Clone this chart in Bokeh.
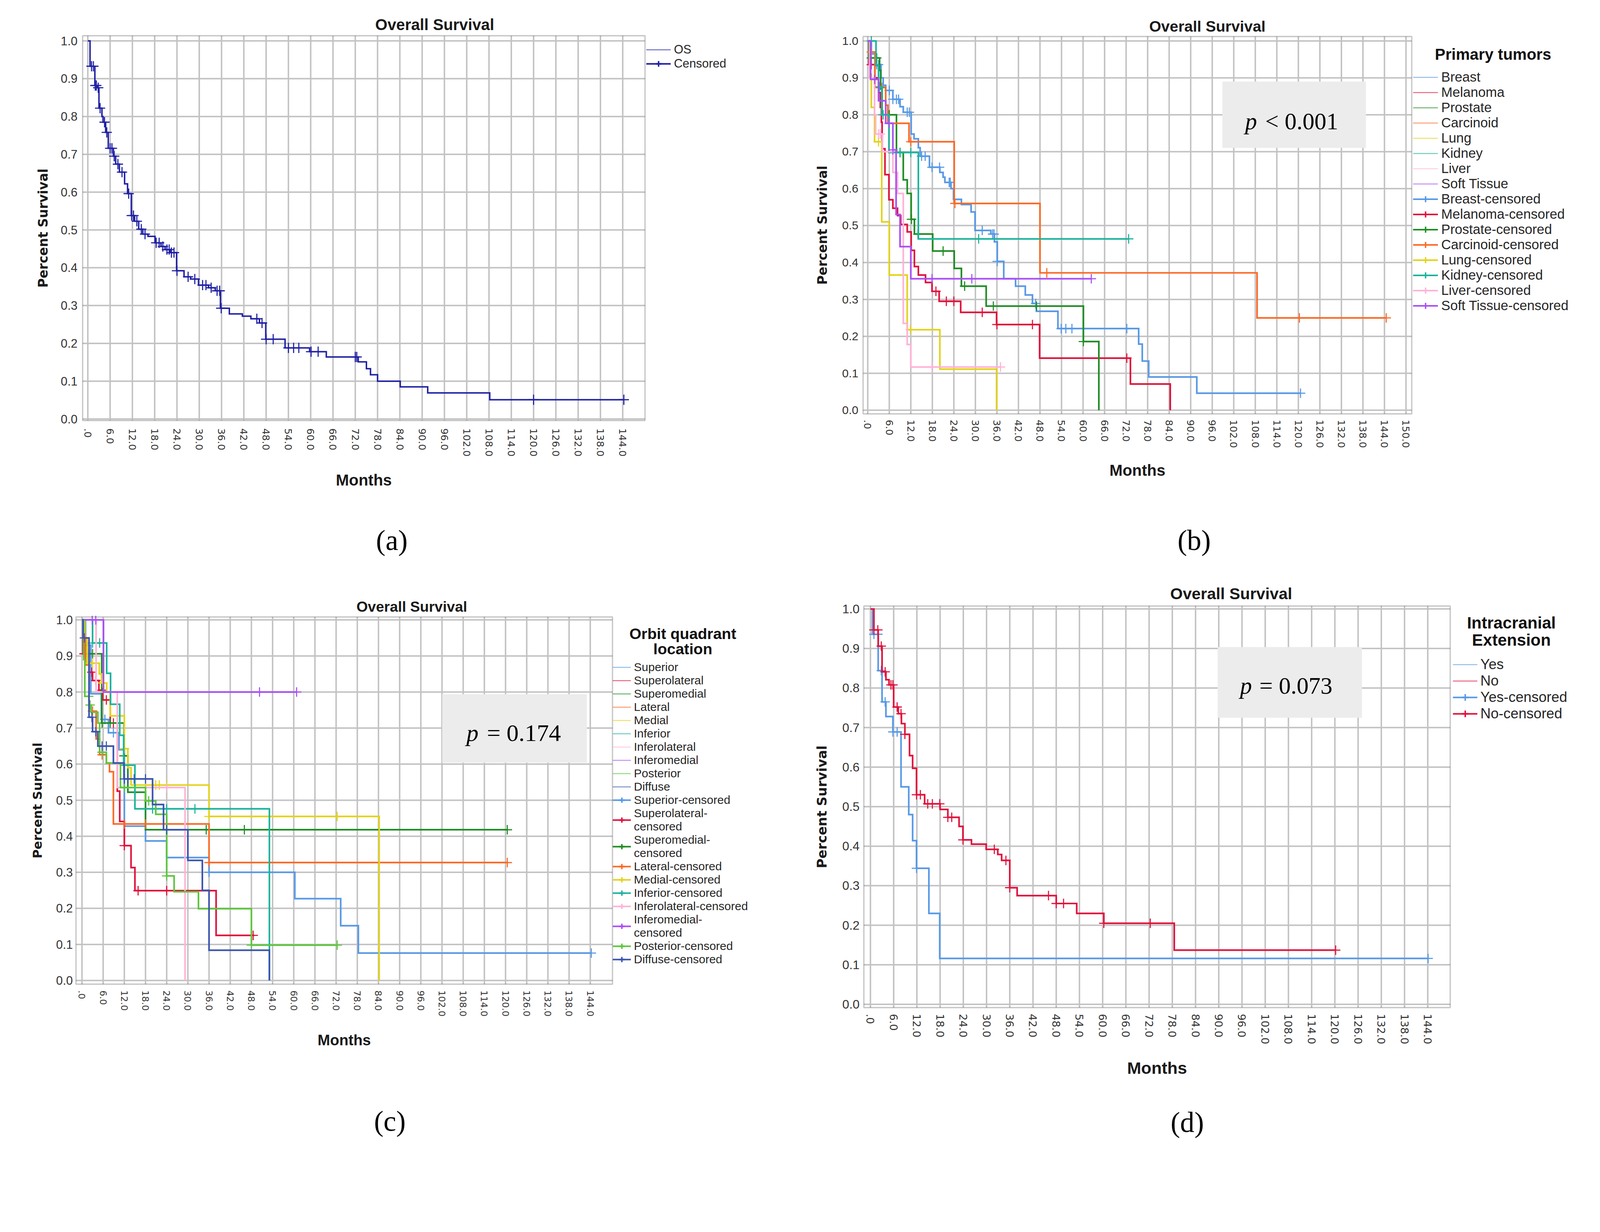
import math
from bokeh.plotting import figure
from bokeh.models import (FixedTicker, Legend, LegendItem, Label, BoxAnnotation,
                          Range1d, PrintfTickFormatter, LinearAxis)
from bokeh.layouts import column, row
from bokeh.embed import file_html
from bokeh.resources import INLINE

SANS = "Liberation Sans"
WIDE = "DejaVu Sans"
SERIF = "Liberation Serif"
NAN = float("nan")

# ---------------- axes / texts ----------------
Y_TICKS = [0.0, 0.1, 0.2, 0.3, 0.4, 0.5, 0.6, 0.7, 0.8, 0.9, 1.0]
X_TICKS_144 = list(range(0, 145, 6))
X_TICKS_150 = list(range(0, 151, 6))
X_ZERO_LABEL = ".0"
TITLE = "Overall Survival"
Y_LABEL = "Percent Survival"
X_LABEL = "Months"

# ---------------- panel (a) ----------------
OS_T = [0, 0.6, 1.9, 2.6, 3.0, 3.8, 4.1, 4.8, 5.5, 6.9, 7.5, 8.5, 9.9, 10.7, 11.7, 12.6, 13.7, 14.8,
        16.2, 18.1, 19.7, 20.8, 22.2, 23.9, 25.9, 27.7, 29.8, 32.5, 34.3, 35.7, 38.1, 41.6, 43.9, 46.2,
        47.9, 53.1, 59.7, 64.2, 72.8, 75.0, 76.1, 78.0, 84.1, 91.5, 108.2]
OS_S = [1.0, 0.933, 0.882, 0.876, 0.822, 0.80, 0.785, 0.758, 0.716, 0.695, 0.674, 0.653, 0.622, 0.596,
        0.538, 0.523, 0.502, 0.489, 0.483, 0.466, 0.456, 0.448, 0.44, 0.392, 0.376, 0.37, 0.354, 0.347,
        0.339, 0.293, 0.278, 0.272, 0.265, 0.254, 0.211, 0.188, 0.178, 0.164, 0.151, 0.133, 0.117, 0.10,
        0.085, 0.069, 0.051]
OS_END = 144.3
OS_C = [1.0, 1.5, 2.0, 2.3, 2.8, 3.3, 4.5, 5.1, 6.0, 6.5, 7.1, 8.1, 9.2, 11.0, 11.8, 12.3, 13.2, 14.4,
        15.4, 18.4, 19.2, 20.2, 21.3, 21.9, 22.5, 23.2, 24.0, 27.0, 28.8, 30.9, 31.8, 33.2, 34.8, 35.5,
        35.9, 45.5, 46.9, 48.0, 49.9, 54.0, 55.4, 56.8, 60.1, 62.0, 72.0, 72.4, 120.0, 144.3]

# ---------------- panel (b) ----------------
BREAST_T = [0, 1.0, 2.2, 3.7, 4.3, 5.0, 7.0, 9.0, 9.9, 12.1, 12.9, 14.1, 14.6, 17.2, 20.1, 21.0, 21.5,
            23.2, 23.9, 26.1, 28.8, 29.9, 34.3, 35.3, 36.1, 37.9, 41.2, 43.9, 45.9, 47.0, 53.0, 75.5,
            76.5, 78.3, 91.7]
BREAST_S = [1.0, 0.965, 0.936, 0.90, 0.88, 0.866, 0.842, 0.822, 0.807, 0.748, 0.735, 0.711, 0.688,
            0.658, 0.644, 0.631, 0.617, 0.60, 0.571, 0.557, 0.537, 0.487, 0.477, 0.456, 0.403, 0.356,
            0.336, 0.312, 0.289, 0.268, 0.221, 0.179, 0.133, 0.09, 0.046]
BREAST_END = 120.6
BREAST_C = [2.5, 3.0, 6.0, 7.0, 8.0, 8.6, 11.0, 11.6, 15.0, 16.0, 17.9, 20.0, 22.7, 23.0, 31.9, 34.8,
            35.2, 36.1, 46.8, 53.9, 55.2, 56.9, 72.2, 120.6]

MELANOMA_T = [0, 0.3, 2.0, 3.0, 3.5, 3.8, 4.0, 4.8, 5.9, 7.0, 8.3, 9.2, 11.0, 12.1, 13.0, 14.1, 16.1,
              17.9, 19.9, 25.9, 35.9, 47.9, 73.2, 84.3]
MELANOMA_S = [1.0, 0.936, 0.90, 0.86, 0.82, 0.78, 0.708, 0.638, 0.57, 0.547, 0.527, 0.503, 0.483,
              0.433, 0.389, 0.366, 0.346, 0.322, 0.295, 0.265, 0.232, 0.141, 0.071, 0.0]
MELANOMA_END = None
MELANOMA_C = [1.0, 19.0, 21.9, 24.0, 31.9, 36.0, 45.9, 72.2]

PROSTATE_T = [0, 0.3, 3.3, 3.6, 4.0, 8.0, 9.9, 11.0, 12.1, 13.0, 18.1, 24.1, 26.1, 33.0, 60.1, 64.4]
PROSTATE_S = [1.0, 0.954, 0.92, 0.87, 0.80, 0.698, 0.624, 0.587, 0.517, 0.477, 0.431, 0.384, 0.336,
              0.282, 0.186, 0.0]
PROSTATE_END = None
PROSTATE_C = [1.0, 2.5, 6.0, 9.0, 12.2, 14.0, 21.0, 27.0, 35.0, 47.0, 60.1]

CARCINOID_T = [0, 0.5, 2.0, 5.0, 5.6, 11.5, 24.1, 48.0, 108.5]
CARCINOID_S = [1.0, 0.97, 0.874, 0.826, 0.777, 0.727, 0.56, 0.372, 0.25]
CARCINOID_END = 144.5
CARCINOID_C = [1.0, 3.0, 3.9, 12.0, 24.3, 49.9, 120.3, 144.5]

LUNG_T = [0, 0.8, 1.0, 1.9, 3.9, 6.0, 11.0, 20.1, 35.9]
LUNG_S = [1.0, 0.91, 0.82, 0.727, 0.51, 0.366, 0.218, 0.111, 0.0]
LUNG_END = None
LUNG_C = [3.0, 11.9]

KIDNEY_T = [0, 2.3, 3.0, 3.9, 5.9, 14.1]
KIDNEY_S = [1.0, 0.933, 0.876, 0.80, 0.698, 0.464]
KIDNEY_END = 72.7
KIDNEY_C = [1.0, 3.3, 4.3, 9.0, 12.0, 30.9, 72.7]

LIVER_T = [0, 0.5, 1.9, 2.2, 4.1, 7.0, 8.3, 9.9, 11.0, 12.0]
LIVER_S = [1.0, 0.90, 0.80, 0.748, 0.70, 0.644, 0.587, 0.235, 0.178, 0.117]
LIVER_END = 37.0
LIVER_C = [3.0, 3.5, 17.9, 37.0]

SOFT_T = [0, 0.8, 3.0, 5.0, 7.0, 7.9, 9.0, 12.0]
SOFT_S = [1.0, 0.896, 0.838, 0.777, 0.705, 0.53, 0.443, 0.356]
SOFT_END = 62.3
SOFT_C = [1.9, 6.0, 7.0, 17.9, 29.0, 62.3]

B_NAMES = ["Breast", "Melanoma", "Prostate", "Carcinoid", "Lung", "Kidney", "Liver", "Soft Tissue"]
B_CENSORED = ["Breast-censored", "Melanoma-censored", "Prostate-censored", "Carcinoid-censored",
              "Lung-censored", "Kidney-censored", "Liver-censored", "Soft Tissue-censored"]
B_LEGEND_TITLE = ["Primary tumors"]

# ---------------- panel (c) ----------------
SUPERIOR_T = [0, 1.0, 2.5, 5.5, 7.5, 10.5, 12.0, 18.0, 24.0, 36.0, 60.3, 73.3, 78.3]
SUPERIOR_S = [1.0, 0.93, 0.795, 0.724, 0.687, 0.64, 0.428, 0.387, 0.341, 0.30, 0.227, 0.152, 0.076]
SUPERIOR_END = 144.3
SUPERIOR_C = [6.5, 8.9, 36.0, 144.3]

SUPEROLAT_T = [0, 0.3, 2.0, 3.0, 4.8, 5.9, 8.0, 10.0, 10.7, 12.0, 13.9, 15.0, 38.0]
SUPEROLAT_S = [1.0, 0.906, 0.855, 0.832, 0.805, 0.778, 0.714, 0.525, 0.441, 0.374, 0.313, 0.249, 0.125]
SUPEROLAT_END = 48.8
SUPEROLAT_C = [0.6, 2.8, 3.9, 5.7, 6.9, 8.9, 12.0, 15.9, 24.0, 48.5]

SUPEROMED_T = [0, 0.8, 5.6, 11.9, 13.0, 18.0]
SUPEROMED_S = [1.0, 0.906, 0.714, 0.623, 0.522, 0.418]
SUPEROMED_END = 120.5
SUPEROMED_C = [1.9, 3.0, 5.7, 8.0, 11.9, 35.2, 46.0, 120.5]

LATERAL_T = [0, 0.5, 1.0, 2.0, 4.0, 5.0, 6.9, 7.8, 8.9, 36.0]
LATERAL_S = [1.0, 0.96, 0.875, 0.747, 0.67, 0.626, 0.603, 0.579, 0.434, 0.327]
LATERAL_END = 120.5
LATERAL_C = [3.0, 5.7, 12.0, 18.0, 36.0, 120.5]

MEDIAL_T = [0, 0.8, 1.5, 4.9, 5.6, 7.0, 8.0, 12.0, 13.0, 13.9, 36.0, 84.2]
MEDIAL_S = [1.0, 0.95, 0.88, 0.85, 0.825, 0.80, 0.734, 0.643, 0.59, 0.542, 0.455, 0.0]
MEDIAL_END = None
MEDIAL_C = [1.9, 3.0, 5.9, 12.0, 20.9, 21.9, 24.0, 36.0, 72.3]

INFERIOR_T = [0, 3.0, 7.0, 8.1, 10.7, 11.8, 15.0, 53.1]
INFERIOR_S = [1.0, 0.936, 0.852, 0.766, 0.68, 0.597, 0.476, 0.0]
INFERIOR_END = None
INFERIOR_C = [3.0, 5.0, 12.0, 20.0, 24.0, 32.0]

INFEROLAT_T = [0, 4.0, 10.0, 29.2]
INFEROLAT_S = [1.0, 0.80, 0.535, 0.0]
INFEROLAT_END = None
INFEROLAT_C = [24.0]

INFEROMED_T = [0, 6.1]
INFEROMED_S = [1.0, 0.80]
INFEROMED_END = 60.8
INFEROMED_C = [2.9, 3.9, 50.3, 60.8]

POSTERIOR_T = [0, 0.5, 0.8, 2.0, 2.6, 4.5, 5.0, 6.9, 10.9, 18.0, 20.9, 24.0, 26.1, 33.0, 48.0]
POSTERIOR_S = [1.0, 0.89, 0.788, 0.764, 0.744, 0.714, 0.633, 0.603, 0.535, 0.498, 0.461, 0.29, 0.246,
               0.199, 0.098]
POSTERIOR_END = 72.3
POSTERIOR_C = [1.9, 2.3, 5.7, 12.0, 18.9, 24.0, 48.0, 72.3]

DIFFUSE_T = [0, 0.3, 2.0, 3.0, 4.5, 8.9, 11.9, 20.0, 23.1, 30.0, 34.1, 36.0, 53.1]
DIFFUSE_S = [1.0, 0.95, 0.73, 0.69, 0.65, 0.603, 0.559, 0.488, 0.418, 0.333, 0.25, 0.084, 0.0]
DIFFUSE_END = None
DIFFUSE_C = [0.7, 2.8, 3.9, 5.7, 6.9, 12.0, 13.0, 14.8, 18.0, 24.0]

C_NAMES = ["Superior", "Superolateral", "Superomedial", "Lateral", "Medial", "Inferior",
           "Inferolateral", "Inferomedial", "Posterior", "Diffuse"]
C_CENSORED = ["Superior-censored", "Superolateral-\ncensored", "Superomedial-\ncensored",
              "Lateral-censored", "Medial-censored", "Inferior-censored", "Inferolateral-censored",
              "Inferomedial-\ncensored", "Posterior-censored", "Diffuse-censored"]
C_LEGEND_TITLE = ["Orbit quadrant", "location"]

# ---------------- panel (d) ----------------
YES_T = [0, 0.5, 2.0, 3.0, 4.0, 5.8, 7.9, 9.9, 10.9, 11.9, 15.1, 17.9]
YES_S = [1.0, 0.936, 0.844, 0.765, 0.728, 0.689, 0.55, 0.48, 0.414, 0.344, 0.23, 0.116]
YES_END = 144.1
YES_C = [0.9, 1.9, 2.8, 3.8, 5.8, 6.9, 11.9, 144.1]

NO_T = [0, 0.9, 2.0, 3.0, 4.0, 4.8, 6.0, 7.2, 8.0, 8.9, 10.1, 10.9, 11.9, 14.0, 18.0, 20.0, 22.9,
        23.9, 26.1, 29.9, 32.9, 33.9, 36.0, 37.9, 48.0, 53.3, 60.3, 78.5]
NO_S = [1.0, 0.947, 0.906, 0.841, 0.821, 0.808, 0.752, 0.735, 0.71, 0.683, 0.629, 0.597, 0.53, 0.507,
        0.493, 0.473, 0.45, 0.416, 0.405, 0.392, 0.379, 0.364, 0.295, 0.275, 0.255, 0.23, 0.205, 0.137]
NO_END = 120.2
NO_C = [0.9, 1.9, 2.8, 3.8, 5.3, 5.8, 6.9, 7.9, 8.9, 11.9, 12.9, 14.8, 16.0, 17.9, 20.0, 21.0, 23.9,
        32.0, 35.0, 36.0, 46.0, 48.0, 49.9, 60.3, 72.3, 120.2]

D_NAMES = ["Yes", "No"]
D_CENSORED = ["Yes-censored", "No-censored"]
D_LEGEND_TITLE = ["Intracranial", "Extension"]

# ---------------- colours ----------------
NAVY = "#1f20a3"
LBLUE = "#5899e6"
RED = "#e0123c"
DGREEN = "#1f8c24"
ORANGE = "#fb6a26"
YELLOW = "#e3d31b"
TEAL = "#1cb39c"
PINK = "#ffb3d6"
PURPLE = "#a94ff6"
LGREEN = "#5dc53f"
DBLUE = "#3b55ae"
GRID = "#c2c2c2"
FRAME = "#474747"

# layout is designed in reference pixels and scaled into the page (CSS px)
K = 4096 / 4368
W, H = 2040, 1470
ORIGINS = [(8, 8), (8 + W, 8), (8, 8 + H), (8 + W, 8 + H)]
PAD = 3


def step_xy(ts, ss, end):
    xs, ys = list(ts), list(ss)
    if end is not None:
        xs.append(end)
        ys.append(ss[-1])
    return xs, ys


def surv_at(ts, ss, t):
    v = ss[0]
    for ti, si in zip(ts, ss):
        if ti <= t + 1e-9:
            v = si
        else:
            break
    return v


def px(v):
    return f"{v * K:.1f}px"


def build(sp, origin):
    ox, oy = origin
    vL, vR, vT, vB = [v * K for v in sp["vis"]]
    xv0, xv1 = sp["xv"]
    yv0, yv1 = sp["yv"]
    Lb, Rb, Tb, Bb = vL - PAD, ox + W - 4, vT - PAD, vB + PAD
    ppx = (vR - vL) / (xv1 - xv0)
    ppy = (vB - vT) / (yv1 - yv0)
    xr0, xr1 = xv0 - (vL - Lb) / ppx, xv0 + (Rb - vL) / ppx
    yr0, yr1 = yv0 - (Bb - vB) / ppy, yv1 + (vT - Tb) / ppy

    def dx(ref_px):
        return xv0 + (ref_px * K - vL) / ppx

    def dy(ref_py):
        return yv1 - (ref_py * K - vT) / ppy

    p = figure(width=W, height=H, output_backend="svg", toolbar_location=None,
               x_range=Range1d(xr0, xr1), y_range=Range1d(yr0, yr1),
               min_border_left=int(round(Lb - ox)), min_border_right=int(round(ox + W - Rb)),
               min_border_top=int(round(Tb - oy)), min_border_bottom=int(round(oy + H - Bb)))
    p.background_fill_color = "white"
    p.border_fill_color = "white"
    p.outline_line_color = None
    p.xgrid.visible = False
    p.ygrid.visible = False

    # grid lines, only inside the plot box
    xt = sp["xticks"]
    p.segment(x0=xt, y0=[yv0] * len(xt), x1=xt, y1=[yv1] * len(xt),
              line_color=GRID, line_width=4 * K)
    p.segment(x0=[xv0] * len(Y_TICKS), y0=Y_TICKS, x1=[xv1] * len(Y_TICKS), y1=Y_TICKS,
              line_color=GRID, line_width=4 * K)

    # axes
    xa, ya = p.xaxis[0], p.yaxis[0]
    xa.ticker = FixedTicker(ticks=xt)
    xa.formatter = PrintfTickFormatter(format="%.1f")
    xa.major_label_overrides = {0: X_ZERO_LABEL}
    xa.major_label_orientation = -math.pi / 2
    xa.major_label_text_font = WIDE
    xa.major_label_text_font_size = px(sp["xtick_size"])
    xa.major_label_text_color = "#333333"
    xa.major_label_standoff = int(round(sp["xtick_standoff"] * K - PAD))

    ya.ticker = FixedTicker(ticks=Y_TICKS)
    ya.formatter = PrintfTickFormatter(format="%.1f")
    ya.major_label_text_font = SANS
    ya.major_label_text_font_size = px(sp["ytick_size"])
    ya.major_label_text_color = "#333333"
    ya.major_label_standoff = int(round(sp["ytick_standoff"] * K - PAD))
    ya.axis_label = Y_LABEL
    ya.axis_label_text_font = WIDE
    ya.axis_label_text_font_style = "bold"
    ya.axis_label_text_font_size = px(sp["ylabel_size"])
    ya.axis_label_text_color = "#1a1a1a"
    ya.axis_label_standoff = int(round(sp["ylabel_standoff"] * K))

    def text_axis(txt, xpos, standoff, font, size, style, color, side):
        ax = LinearAxis(ticker=FixedTicker(ticks=[xpos]), formatter=PrintfTickFormatter(format=txt),
                        major_label_standoff=int(round(standoff * K)), major_label_text_font=font,
                        major_label_text_font_size=px(size), major_label_text_font_style=style,
                        major_label_text_color=color)
        p.add_layout(ax, side)
        return ax

    ax_t = text_axis(TITLE, dx(sp["title_c"]), sp["title_standoff"], SANS, sp["title_size"],
                     "bold", "#1a1a1a", "above")
    ax_m = text_axis(X_LABEL, (xv0 + xv1) / 2, sp["xlabel_standoff"], SANS, sp["xlabel_size"],
                     "bold", "#1a1a1a", "below")
    cap, cx, cs_ = sp["caption"]
    ax_c = text_axis(cap, dx(cx), cs_, SERIF, 78, "normal", "#000000", "below")

    for ax in (xa, ya, ax_t, ax_m, ax_c):
        ax.axis_line_color = None
        ax.major_tick_line_color = None
        ax.minor_tick_line_color = None
        ax.major_tick_out = 0
        ax.major_tick_in = 0
        ax.minor_tick_out = 0
        ax.minor_tick_in = 0

    # plot box border
    p.add_layout(BoxAnnotation(left=xv0, right=xv1, bottom=yv0, top=yv1, fill_color=None,
                               fill_alpha=0.0, line_color=FRAME, line_width=3.5 * K))

    # p-value box
    pv = sp.get("pval")
    if pv:
        bx0, bx1, by0, by1 = pv["box"]
        p.add_layout(BoxAnnotation(left=dx(bx0), right=dx(bx1), top=dy(by0), bottom=dy(by1),
                                   fill_color="#ececec", fill_alpha=1.0, line_alpha=0.0))
        p.add_layout(Label(x=dx(pv["p_x"]), y=dy(pv["base"]), text="p", text_font=SERIF,
                           text_font_style="italic", text_font_size=px(pv["size"]),
                           text_baseline="alphabetic", text_align="left", text_color="#000000"))
        p.add_layout(Label(x=dx(pv["r_x"]), y=dy(pv["base"]), text=pv["rest"], text_font=SERIF,
                           text_font_size=px(pv["size"]), text_baseline="alphabetic",
                           text_align="left", text_color="#000000"))

    # curves
    leg_curve, leg_cens = [], []
    for (name, cname, col, ts, ss, end, cs) in sp["curves"]:
        xs, ys = step_xy(ts, ss, end)
        p.step(x=xs, y=ys, mode="after", line_color=col, line_width=sp["lw"] * K,
               line_join="miter")
        if cs:
            cy = [surv_at(ts, ss, t) for t in cs]
            p.scatter(x=cs, y=cy, marker="cross", size=sp["cross"] * K, line_color=col,
                      line_width=3 * K)
        # legend proxies (NaN data: nothing drawn in the plot)
        r1 = p.line(x=[NAN, NAN], y=[NAN, NAN], line_color=col, line_width=2.5 * K, line_alpha=0.65)
        r2 = p.line(x=[NAN, NAN], y=[NAN, NAN], line_color=col, line_width=4 * K)
        r3 = p.scatter(x=[NAN], y=[NAN], marker="cross", size=30 * K, line_color=col,
                       line_width=4 * K)
        leg_curve.append(LegendItem(label=name, renderers=[r1]))
        leg_cens.append(LegendItem(label=cname, renderers=[r2, r3]))

    lg = sp["legend"]
    items = leg_curve + leg_cens
    h = 0.0
    for it in items:
        h += (lg["dbl"] if "\n" in it.label.value else lg["single"]) * K
    vx = lg["left"] * K - Lb
    vy = Bb - (lg["top"] * K + h)
    legend = Legend(items=items, location=(vx, vy), orientation="vertical",
                    label_text_font=SANS, label_text_font_size=px(lg["fs"]),
                    label_text_color="#262626", label_text_line_height=lg.get("lh", 1.0),
                    glyph_width=int(round(lg["gw"] * K)), glyph_height=int(round(lg["ih"] * K)),
                    label_height=int(round(lg["ih"] * K)),
                    label_standoff=int(round(lg["st"] * K)), spacing=0, padding=0, margin=0,
                    background_fill_alpha=0.0, border_line_alpha=0.0)
    p.add_layout(legend)

    for (txt, tx, ty, size) in sp.get("legend_title", []):
        p.add_layout(Label(x=dx(tx), y=dy(ty), text=txt, text_align="center",
                           text_baseline="middle", text_font=SANS, text_font_style="bold",
                           text_font_size=px(size), text_color="#111111"))
    return p


# all positions / sizes below are in reference-image pixels
spec_a = dict(
    vis=(234, 1769, 106, 1156), xv=(-1.4, 150.0), yv=(-0.004, 1.0136),
    xticks=X_TICKS_144, title_c=1195, title_size=43, title_standoff=3,
    ylabel_size=35, ylabel_standoff=25, ytick_size=33, ytick_standoff=14,
    xtick_size=27, xtick_standoff=21, xlabel_size=43, xlabel_standoff=37,
    lw=4, cross=28,
    curves=[("OS", "Censored", NAVY, OS_T, OS_S, OS_END, OS_C)],
    legend=dict(left=1773, top=126, fs=33, ih=38, single=38, dbl=76, gw=67, st=8),
    caption=("(a)", 1078, 94),
)

spec_b = dict(
    vis=(2364, 3862, 108, 1138), xv=(-1.3, 151.6), yv=(-0.0099, 1.012),
    xticks=X_TICKS_150, title_c=3304, title_size=42, title_standoff=2,
    ylabel_size=35, ylabel_standoff=30, ytick_size=32, ytick_standoff=13,
    xtick_size=27, xtick_standoff=16, xlabel_size=43, xlabel_standoff=34,
    lw=4.5, cross=26,
    curves=[
        (B_NAMES[0], B_CENSORED[0], LBLUE, BREAST_T, BREAST_S, BREAST_END, BREAST_C),
        (B_NAMES[1], B_CENSORED[1], RED, MELANOMA_T, MELANOMA_S, MELANOMA_END, MELANOMA_C),
        (B_NAMES[2], B_CENSORED[2], DGREEN, PROSTATE_T, PROSTATE_S, PROSTATE_END, PROSTATE_C),
        (B_NAMES[3], B_CENSORED[3], ORANGE, CARCINOID_T, CARCINOID_S, CARCINOID_END, CARCINOID_C),
        (B_NAMES[4], B_CENSORED[4], YELLOW, LUNG_T, LUNG_S, LUNG_END, LUNG_C),
        (B_NAMES[5], B_CENSORED[5], TEAL, KIDNEY_T, KIDNEY_S, KIDNEY_END, KIDNEY_C),
        (B_NAMES[6], B_CENSORED[6], PINK, LIVER_T, LIVER_S, LIVER_END, LIVER_C),
        (B_NAMES[7], B_CENSORED[7], PURPLE, SOFT_T, SOFT_S, SOFT_END, SOFT_C),
    ],
    legend=dict(left=3865, top=192, fs=37, ih=42, single=42, dbl=84, gw=68, st=10),
    legend_title=[(B_LEGEND_TITLE[0], 4084, 157, 43)],
    pval=dict(box=(3345, 3737, 231, 412), p_x=3407, r_x=3462, base=339, size=65, rest="< 0.001"),
    caption=("(b)", 3268, 120),
)

spec_c = dict(
    vis=(215, 1680, 1692, 2695), xv=(-1.7, 150.3), yv=(-0.0102, 1.0081),
    xticks=X_TICKS_144, title_c=1132, title_size=40, title_standoff=3,
    ylabel_size=34, ylabel_standoff=28, ytick_size=33, ytick_standoff=9,
    xtick_size=25, xtick_standoff=17, xlabel_size=41, xlabel_standoff=37,
    lw=4.5, cross=26,
    curves=[
        (C_NAMES[0], C_CENSORED[0], LBLUE, SUPERIOR_T, SUPERIOR_S, SUPERIOR_END, SUPERIOR_C),
        (C_NAMES[1], C_CENSORED[1], RED, SUPEROLAT_T, SUPEROLAT_S, SUPEROLAT_END, SUPEROLAT_C),
        (C_NAMES[2], C_CENSORED[2], DGREEN, SUPEROMED_T, SUPEROMED_S, SUPEROMED_END, SUPEROMED_C),
        (C_NAMES[3], C_CENSORED[3], ORANGE, LATERAL_T, LATERAL_S, LATERAL_END, LATERAL_C),
        (C_NAMES[4], C_CENSORED[4], YELLOW, MEDIAL_T, MEDIAL_S, MEDIAL_END, MEDIAL_C),
        (C_NAMES[5], C_CENSORED[5], TEAL, INFERIOR_T, INFERIOR_S, INFERIOR_END, INFERIOR_C),
        (C_NAMES[6], C_CENSORED[6], PINK, INFEROLAT_T, INFEROLAT_S, INFEROLAT_END, INFEROLAT_C),
        (C_NAMES[7], C_CENSORED[7], PURPLE, INFEROMED_T, INFEROMED_S, INFEROMED_END, INFEROMED_C),
        (C_NAMES[8], C_CENSORED[8], LGREEN, POSTERIOR_T, POSTERIOR_S, POSTERIOR_END, POSTERIOR_C),
        (C_NAMES[9], C_CENSORED[9], DBLUE, DIFFUSE_T, DIFFUSE_S, DIFFUSE_END, DIFFUSE_C),
    ],
    legend=dict(left=1680, top=1822, fs=32, ih=36, single=36.8, dbl=66.2, lh=0.8, gw=50, st=8),
    legend_title=[(C_LEGEND_TITLE[0], 1872, 1737, 42), (C_LEGEND_TITLE[1], 1872, 1779, 42)],
    pval=dict(box=(1215, 1610, 1903, 2090), p_x=1281, r_x=1337, base=2008, size=66, rest="= 0.174"),
    caption=("(c)", 1072, 153),
)

spec_d = dict(
    vis=(2366, 3967, 1663, 2759), xv=(-1.7, 149.8), yv=(-0.0083, 1.0074),
    xticks=X_TICKS_144, title_c=3369, title_size=44, title_standoff=6,
    ylabel_size=36, ylabel_standoff=31, ytick_size=34, ytick_standoff=12,
    xtick_size=29, xtick_standoff=17, xlabel_size=46, xlabel_standoff=35,
    lw=4.5, cross=26,
    curves=[
        (D_NAMES[0], D_CENSORED[0], LBLUE, YES_T, YES_S, YES_END, YES_C),
        (D_NAMES[1], D_CENSORED[1], RED, NO_T, NO_S, NO_END, NO_C),
    ],
    legend=dict(left=3974, top=1799, fs=39, ih=45, single=45, dbl=90, gw=67, st=9),
    legend_title=[(D_LEGEND_TITLE[0], 4134, 1709, 45), (D_LEGEND_TITLE[1], 4134, 1756, 45)],
    pval=dict(box=(3332, 3726, 1775, 1968), p_x=3393, r_x=3446, base=1880, size=65, rest="= 0.073"),
    caption=("(d)", 3249, 77),
)

pa = build(spec_a, ORIGINS[0])
pb = build(spec_b, ORIGINS[1])
pc = build(spec_c, ORIGINS[2])
pd = build(spec_d, ORIGINS[3])

layout = column(row(column(pa), column(pb)), row(column(pc), column(pd)))
open("out.html", "w").write(file_html(layout, INLINE))
